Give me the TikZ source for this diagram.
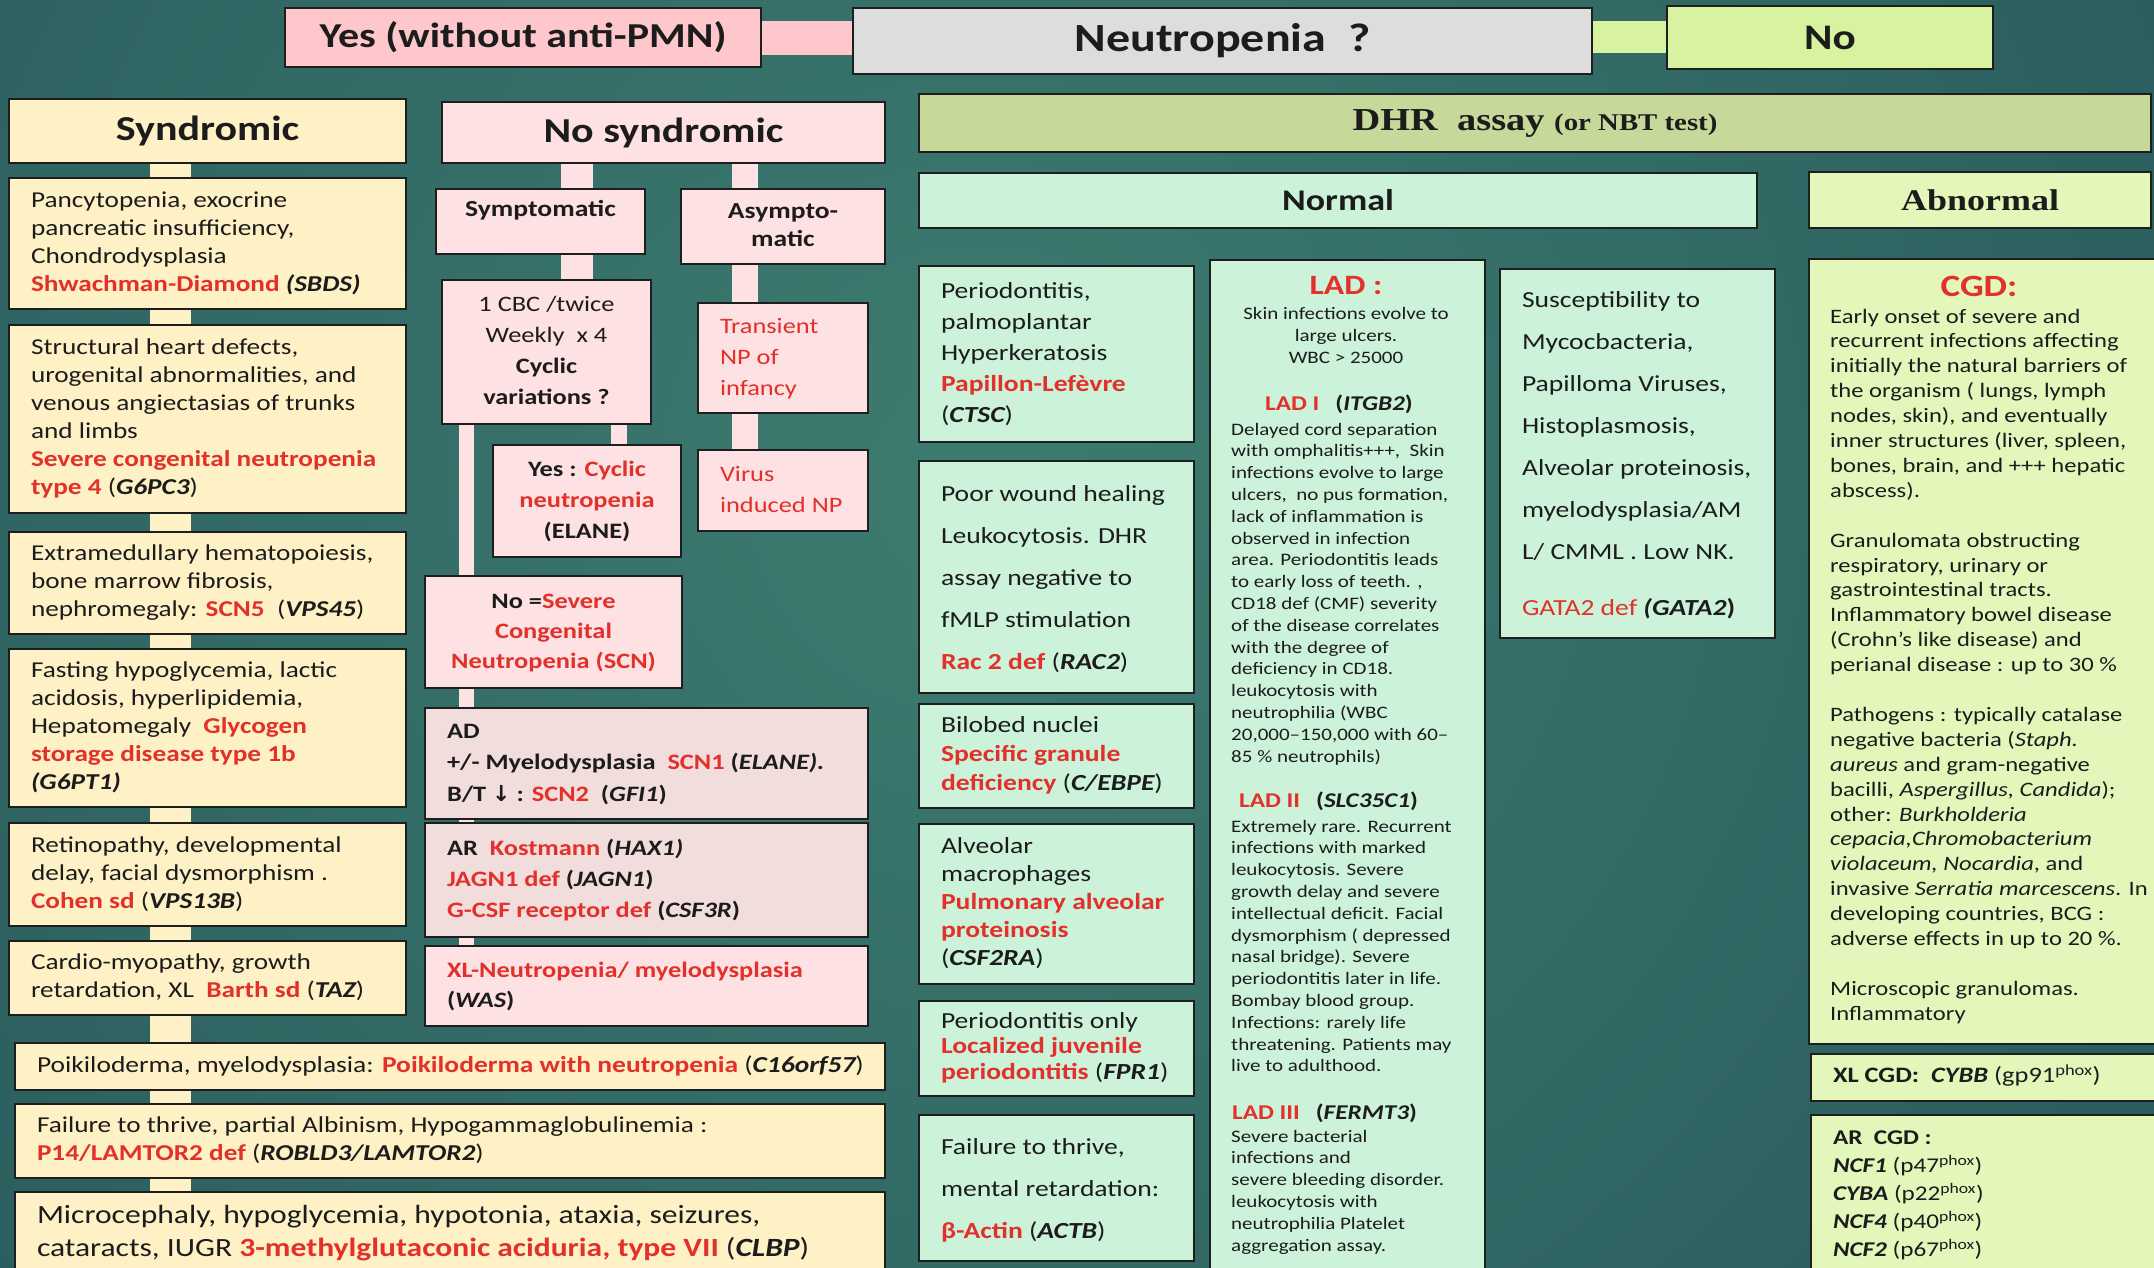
\documentclass[tikz,border=0pt]{standalone}
\usepackage{fontspec}
\setmainfont{Carlito}[FakeStretch=1.2]
\newfontfamily\timesf{Liberation Serif}[FakeStretch=1.2]
\newfontfamily\dejavu{DejaVu Sans}

\definecolor{bgdark}{HTML}{173C4A}
\definecolor{bglight}{HTML}{3D7C70}
\definecolor{boxline}{HTML}{1E1E1E}
\definecolor{txt}{HTML}{1C1C1C}
\definecolor{redT}{HTML}{E2302A}
\definecolor{pinkY}{HTML}{FDC7CB}
\definecolor{pinkL}{HTML}{FDE1E3}
\definecolor{pinkG}{HTML}{F2DDDD}
\definecolor{yelS}{HTML}{FFF1C6}
\definecolor{greyN}{HTML}{DDDDDD}
\definecolor{limeN}{HTML}{D7F3A0}
\definecolor{oliveD}{HTML}{C7D99A}
\definecolor{mintN}{HTML}{CCF2DA}
\definecolor{limeA}{HTML}{E3F7BB}

\pgfdeclarelayer{bg}
\pgfdeclarelayer{conn}
\pgfsetlayers{bg,conn,main}

\newlength\bpx \setlength\bpx{22pt}
\newlength\bpy \setlength\bpy{8pt}

\newcommand\fs[2]{\fontsize{#1pt}{#2pt}\selectfont}
\newcommand\R[1]{{\color{redT}\bfseries #1}}
\newcommand\Rn[1]{{\color{redT}#1}}
\newcommand\G[1]{{\bfseries\itshape #1}}
\newcommand\TL[1]{\begin{tabular}[t]{@{}l@{}}#1\end{tabular}}
\newcommand\TC[1]{\begin{tabular}[t]{@{}c@{}}#1\end{tabular}}

\tikzset{
  box/.style={draw=boxline,line width=2pt,inner xsep=\bpx,inner ysep=\bpy,text=txt},
  txt/.style={inner sep=0pt,text=txt},
  conn/.style={line cap=butt}
}

% box: name, x1, y1, x2, y2, style, vertical alignment, content
\newcommand\bx[8]{%
  \node[box,#6,anchor=north west,minimum width={(#4-#2)*1pt},minimum height={(#5-#3)*1pt}] (#1) at (#2,#3)
    {\parbox[c][\dimexpr #5pt-#3pt-2\bpy\relax][#7]{\dimexpr #4pt-#2pt-2\bpx\relax}{#8}};}

\begin{document}
\begin{tikzpicture}[x=1pt,y=-1pt]
\useasboundingbox (0,0) rectangle (2154,1268);

\begin{pgfonlayer}{bg}
  \fill[bgdark] (0,0) rectangle (2154,1268);
  \begin{scope}
    \clip (0,0) rectangle (2154,1268);
    \shade[inner color=bglight,outer color=bgdark] (980,480) circle (2700pt);
  \end{scope}
\end{pgfonlayer}

% ---- top row
\bx{yes}{284}{7}{760}{66}{fill=pinkY}{c}{\centering\fs{35}{40}\textbf{Yes (without anti-PMN)}}
\bx{neu}{852}{7}{1591}{73}{fill=greyN}{c}{\centering\fs{40}{44}\textbf{Neutropenia\ \ ?}}
\bx{no}{1666}{5}{1992}{68}{fill=limeN}{c}{\centering\fs{36}{40}\textbf{No}}

% ---- second row
\bx{syn}{8}{98}{405}{162}{fill=yelS}{c}{\centering\fs{35}{40}\textbf{Syndromic}}
\bx{nosyn}{441}{101}{884}{162}{fill=pinkL}{c}{\centering\fs{35}{40}\textbf{No syndromic}}
\bx{dhr}{918}{93}{2150}{151}{fill=oliveD}{c}{\centering\timesf\bfseries\fs{32}{36}DHR\ \ assay {\fs{24}{36}(or NBT test)}}
\bx{normal}{918}{172}{1756}{227}{fill=mintN}{c}{\centering\fs{30}{34}\textbf{Normal}}
\bx{abn}{1808}{171}{2150}{227}{fill=limeA}{c}{\centering\timesf\bfseries\fs{30}{34}Abnormal}

% ---- syndromic column
\bx{s1}{8}{177}{405}{308}{fill=yelS}{c}{\fs{22.7}{28}\TL{Pancytopenia, exocrine\\ pancreatic insufficiency,\\ Chondrodysplasia\\ \R{Shwachman-Diamond} \G{(SBDS)}}}
\bx{s2}{8}{324}{405}{512}{fill=yelS}{c}{\fs{22.7}{28}\TL{Structural heart defects,\\ urogenital abnormalities, and\\ venous angiectasias of trunks\\ and limbs\\ \R{Severe congenital neutropenia}\\ \R{type 4} (\G{G6PC3})}}
\bx{s3}{8}{531}{405}{633}{fill=yelS}{c}{\fs{22.7}{28}\TL{Extramedullary hematopoiesis,\\ bone marrow fibrosis,\\ nephromegaly: \R{SCN5}\ \ (\G{VPS45})}}
\bx{s4}{8}{648}{405}{806}{fill=yelS}{c}{\fs{22.7}{28}\TL{Fasting hypoglycemia, lactic\\ acidosis, hyperlipidemia,\\ Hepatomegaly\ \ \R{Glycogen}\\ \R{storage disease type 1b}\\ \G{(G6PT1)}}}
\bx{s5}{8}{822}{405}{925}{fill=yelS}{c}{\fs{22.7}{28}\TL{Retinopathy, developmental\\ delay, facial dysmorphism .\\ \R{Cohen sd} (\G{VPS13B})}}
\bx{s6}{8}{940}{405}{1014}{fill=yelS}{c}{\fs{22.7}{28}\TL{Cardio-myopathy, growth\\ retardation, XL\ \ \R{Barth sd} (\G{TAZ})}}
\bx{s7}{14}{1042}{884}{1089}{fill=yelS}{c}{\fs{22.9}{28}\TL{Poikiloderma, myelodysplasia: \R{Poikiloderma with neutropenia} (\G{C16orf57})}}
\bx{s8}{14}{1103}{884}{1177}{fill=yelS}{c}{\fs{22.7}{28}\TL{Failure to thrive, partial Albinism, Hypogammaglobulinemia :\\ \R{P14/LAMTOR2 def} (\G{ROBLD3/LAMTOR2})}}
\bx{s9}{14}{1191}{884}{1300}{fill=yelS}{t}{\fs{26.3}{33}\TL{Microcephaly, hypoglycemia, hypotonia, ataxia, seizures,\\ cataracts, IUGR \R{3-methylglutaconic aciduria, type VII} (\G{CLBP})}}

% ---- non-syndromic column
\bx{sym}{435}{188}{644}{253}{fill=pinkL}{t}{\centering\fs{23}{28}\TC{\textbf{Symptomatic}}}
\bx{asy}{680}{188}{884}{263}{fill=pinkL}{c}{\centering\fs{23}{28}\TC{\textbf{Asympto-}\\ \textbf{matic}}}
\bx{cbc}{441}{279}{650}{423}{fill=pinkL}{c}{\centering\fs{22}{31}\TC{1 CBC /twice\\ Weekly\ \ x 4\\ \textbf{Cyclic}\\ \textbf{variations ?}}}
\bx{tra}{697}{302}{867}{412}{fill=pinkL}{c}{\fs{22}{31}\TL{\Rn{Transient}\\ \Rn{NP of}\\ \Rn{infancy}}}
\bx{vir}{697}{449}{867}{530}{fill=pinkL}{c}{\fs{22}{31}\TL{\Rn{Virus}\\ \Rn{induced NP}}}
\bx{yc}{492}{444}{680}{556}{fill=pinkL}{c}{\centering\fs{22}{31}\bfseries\TC{Yes : \R{Cyclic}\\ \R{neutropenia}\\ (ELANE)}}
\bx{nosc}{424}{575}{681}{687}{fill=pinkL}{c}{\centering\fs{22}{30}\bfseries\TC{No =\R{Severe}\\ \R{Congenital}\\ \R{Neutropenia (SCN)}}}
\bx{ad}{424}{707}{867}{818}{fill=pinkG}{c}{\fs{22}{31.5}\bfseries\TL{AD\\ +/- Myelodysplasia\ \ \R{SCN1} (\G{ELANE).}\\ B/T {\dejavu ↓} : \R{SCN2}\ \ (\G{GFI1})}}
\bx{ar}{424}{822}{867}{936}{fill=pinkG}{c}{\fs{22}{31}\bfseries\TL{AR\ \ \R{Kostmann} (\G{HAX1)}\\ \R{JAGN1 def} (\G{JAGN1})\\ \R{G-CSF receptor def} (\G{CSF3R})}}
\bx{xl}{424}{945}{867}{1025}{fill=pinkL}{c}{\fs{22}{30}\bfseries\TL{\R{XL-Neutropenia/ myelodysplasia}\\ (\G{WAS})}}

% ---- DHR normal column
\bx{pap}{918}{265}{1193}{441}{fill=mintN}{c}{\fs{23}{31}\TL{Periodontitis,\\ palmoplantar\\ Hyperkeratosis\\ \R{Papillon-Lefèvre}\\ (\G{CTSC})}}
\bx{poor}{918}{460}{1193}{692}{fill=mintN}{c}{\fs{23}{42}\TL{Poor wound healing\\ Leukocytosis. DHR\\ assay negative to\\ fMLP stimulation\\ \R{Rac 2 def} (\G{RAC2})}}
\bx{bil}{918}{703}{1193}{807}{fill=mintN}{c}{\fs{23}{29}\TL{Bilobed nuclei\\ \R{Specific granule}\\ \R{deficiency} (\G{C/EBPE})}}
\bx{alv}{918}{823}{1193}{983}{fill=mintN}{c}{\fs{23}{28}\TL{Alveolar\\ macrophages\\ \R{Pulmonary alveolar}\\ \R{proteinosis}\\ (\G{CSF2RA})}}
\bx{per}{918}{1000}{1193}{1095}{fill=mintN}{c}{\fs{23}{25.5}\TL{Periodontitis only\\ \R{Localized juvenile}\\ \R{periodontitis} (\G{FPR1})}}
\bx{fail}{918}{1114}{1193}{1260}{fill=mintN}{c}{\fs{23}{42}\TL{Failure to thrive,\\ mental retardation:\\ \R{β-Actin} (\G{ACTB})}}

% LAD box and its text blocks
\bx{lad}{1209}{259}{1484}{1300}{fill=mintN}{t}{\leavevmode}
\node[txt,anchor=base] (ladT) at (1346,294) {\fs{28}{30}\R{LAD :}};
\node[txt,anchor=base] (ladS) at (1346,319) {\fs{17.5}{22}\TC{Skin infections evolve to\\ large ulcers.\\ WBC > 25000}};
\node[txt,anchor=base west] (ladA) at (1265,410) {\fs{21}{24}\R{LAD I}\hspace{16pt}\textbf{(}\G{ITGB2}\textbf{)}};
\node[txt,anchor=base west] (ladAt) at (1231,435) {\fs{17.5}{21.8}\TL{Delayed cord separation\\ with omphalitis+++,\ \ Skin\\ infections evolve to large\\ ulcers,\ \ no pus formation,\\ lack of inflammation is\\ observed in infection\\ area. Periodontitis leads\\ to early loss of teeth. ,\\ CD18 def (CMF) severity\\ of the disease correlates\\ with the degree of\\ deficiency in CD18.\\ leukocytosis with\\ neutrophilia (WBC\\ 20,000–150,000 with 60–\\ 85 \% neutrophils)}};
\node[txt,anchor=base west] (ladB) at (1239,807) {\fs{21}{24}\R{LAD II}\hspace{16pt}\textbf{(}\G{SLC35C1}\textbf{)}};
\node[txt,anchor=base west] (ladBt) at (1231,832) {\fs{17.5}{21.8}\TL{Extremely rare. Recurrent\\ infections with marked\\ leukocytosis. Severe\\ growth delay and severe\\ intellectual deficit. Facial\\ dysmorphism ( depressed\\ nasal bridge). Severe\\ periodontitis later in life.\\ Bombay blood group.\\ Infections: rarely life\\ threatening. Patients may\\ live to adulthood.}};
\node[txt,anchor=base west] (ladC) at (1232,1119) {\fs{21}{24}\R{LAD III}\hspace{16pt}\textbf{(}\G{FERMT3}\textbf{)}};
\node[txt,anchor=base west] (ladCt) at (1231,1142) {\fs{17.5}{21.8}\TL{Severe bacterial\\ infections and\\ severe bleeding disorder.\\ leukocytosis with\\ neutrophilia Platelet\\ aggregation assay.}};

\bx{gata}{1499}{268}{1774}{637}{fill=mintN}{c}{\fs{23}{42}\TL{Susceptibility to\\ Mycocbacteria,\\ Papilloma Viruses,\\ Histoplasmosis,\\ Alveolar proteinosis,\\ myelodysplasia/AM\\ L/ CMML . Low NK.\\[14pt] \Rn{GATA2 def} \G{(GATA2}\textbf{)}}}

% ---- DHR abnormal column
\bx{cgd}{1808}{258}{2175}{1043}{fill=limeA}{t}{\leavevmode}
\node[txt,anchor=base] (cgdT) at (1979,296) {\fs{31}{34}\R{CGD:}};
\node[txt,anchor=base west] (cgdB) at (1830,323) {\fs{20.5}{24.9}\TL{Early onset of severe and\\ recurrent infections affecting\\ initially the natural barriers of\\ the organism ( lungs, lymph\\ nodes, skin), and eventually\\ inner structures (liver, spleen,\\ bones, brain, and +++ hepatic\\ abscess).\\ \\ Granulomata obstructing\\ respiratory, urinary or\\ gastrointestinal tracts.\\ Inflammatory bowel disease\\ (Crohn’s like disease) and\\ perianal disease : up to 30 \%\\ \\ Pathogens : typically catalase\\ negative bacteria (\textit{Staph.}\\ \textit{aureus} and gram-negative\\ bacilli, \textit{Aspergillus, Candida});\\ other: \textit{Burkholderia}\\ \textit{cepacia,Chromobacterium}\\ \textit{violaceum, Nocardia}, and\\ invasive \textit{Serratia marcescens}. In\\ developing countries, BCG :\\ adverse effects in up to 20 \%.\\ \\ Microscopic granulomas.\\ Inflammatory}};
\bx{xlc}{1810}{1053}{2175}{1100}{fill=limeA}{c}{\fs{22}{26}\TL{\textbf{XL CGD:}\ \ \G{CYBB} (gp91\textsuperscript{phox})}}
\bx{arc}{1810}{1114}{2175}{1300}{fill=limeA}{t}{\vspace*{2pt}\fs{21}{28}\TL{\textbf{AR\ \ CGD :}\\ \G{NCF1} (p47\textsuperscript{phox})\\ \G{CYBA} (p22\textsuperscript{phox})\\ \G{NCF4} (p40\textsuperscript{phox})\\ \G{NCF2} (p67\textsuperscript{phox})}}

% ---- connectors (drawn beneath the boxes)
\coordinate (cy1) at (0,38);
\coordinate (cy2) at (0,37);
\coordinate (cxs) at (170.5,0);
\coordinate (cxa) at (577,0);
\coordinate (cxb) at (745,0);
\coordinate (cxc) at (619,0);
\coordinate (cxd) at (466.5,0);
\begin{pgfonlayer}{conn}
  \draw[conn,pinkY,line width=34pt] (yes.east |- cy1) -- (neu.west |- cy1);
  \draw[conn,limeN,line width=32pt] (neu.east |- cy2) -- (no.west |- cy2);
  \foreach \a/\b in {syn/s1,s1/s2,s2/s3,s3/s4,s4/s5,s5/s6,s6/s7,s7/s8,s8/s9}
    \draw[conn,yelS,line width=41pt] (\a.south -| cxs) -- (\b.north -| cxs);
  \draw[conn,pinkL,line width=32pt] (nosyn.south -| cxa) -- (sym.north -| cxa);
  \draw[conn,pinkL,line width=32pt] (sym.south -| cxa) -- (cbc.north -| cxa);
  \draw[conn,pinkL,line width=26pt] (nosyn.south -| cxb) -- (asy.north -| cxb);
  \draw[conn,pinkL,line width=26pt] (asy.south -| cxb) -- (tra.north -| cxb);
  \draw[conn,pinkL,line width=26pt] (tra.south -| cxb) -- (vir.north -| cxb);
  \draw[conn,pinkL,line width=16pt] (cbc.south -| cxc) -- (yc.north -| cxc);
  \foreach \a/\b in {cbc/nosc,nosc/ad,ad/ar,ar/xl}
    \draw[conn,pinkL,line width=15pt] (\a.south -| cxd) -- (\b.north -| cxd);
\end{pgfonlayer}
\end{tikzpicture}
\end{document}
